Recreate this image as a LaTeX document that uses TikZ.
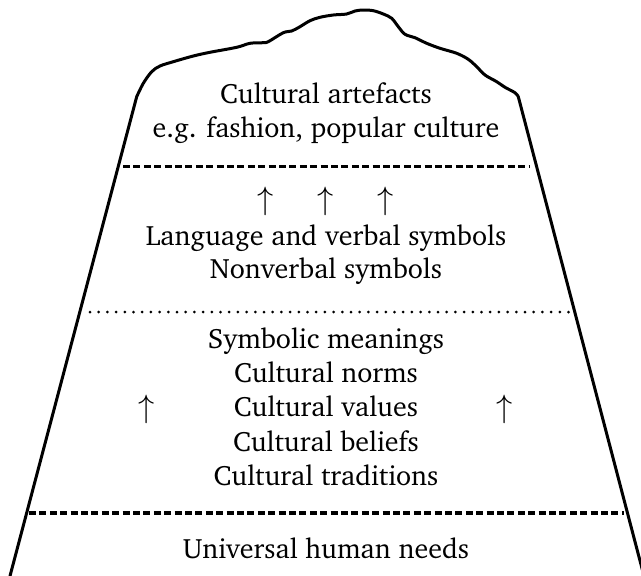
\documentclass[tikz,border=0pt]{standalone}
\usepackage[T1]{fontenc}
\usepackage{charter}
\begin{document}
\begin{tikzpicture}[x=1pt,y=-1pt,
  outline/.style={line width=3pt,line join=round,line cap=round},
  boldsep/.style={line width=3.4pt,dash pattern=on 7pt off 3.4pt},
  dotsep/.style={line width=3pt,line cap=round,dash pattern=on 0pt off 8.7pt},
  lbl/.style={anchor=base,inner sep=0pt,font=\fontsize{28}{34}\selectfont},
  upar/.style={inner sep=0pt,scale=1.3,font=\fontsize{24.88}{30}\selectfont}]
\useasboundingbox (0,0) rectangle (641,576);

% iceberg outline: straight flanks joined by a ragged crest
\draw[outline] (10,576) -- (136.7,96.7)
  plot[smooth,tension=0.55] coordinates {
   (136.7,96.7) (143.3,83.3) (151.7,71.7) (160,66) (173.3,61.7) (193.3,56)
   (210,52.3) (236.7,47.3) (250,43.3) (263.3,42.7) (268.3,41.7) (283.3,32.7)
   (291.7,31) (300,26.7) (310,20.7) (320,17.3) (333.3,15) (346.7,14)
   (355,11) (363.3,10) (373.3,10.7) (383.3,14) (391.7,18.3) (398.3,26.7)
   (405,34.3) (415,37.7) (426.7,43.3) (440,48.3) (456.7,53.3) (468.3,59.3)
   (476.7,66.7) (485,75) (496.7,81.7) (505,87.3) (515,92.7) (518.3,96.7)}
  -- (644,576);

% layer separators
\coordinate (s1l) at (123,166.5); \coordinate (s1r) at (529,166.5);
\coordinate (s2l) at (90,312);    \coordinate (s2r) at (571,312);
\coordinate (s3l) at (29,513);    \coordinate (s3r) at (624,513);
\draw[boldsep] (s1l) -- (s1r);
\draw[dotsep] (s2l) -- (s2r);
\draw[boldsep] (s3l) -- (s3r);

% top layer
\node[lbl] (art) at (326,103.5) {Cultural artefacts};
\node[lbl] (eg)  at (326,137) {e.g. fashion, popular culture};

% second layer
\node[upar] (a1) at (265.7,201.5) {$\uparrow$};
\node[upar] (a2) at (326,201.5) {$\uparrow$};
\node[upar] (a3) at (386,201.5) {$\uparrow$};
\node[lbl] (lang) at (326,245) {Language and verbal symbols};
\node[lbl] (nonv) at (326,278.3) {Nonverbal symbols};

% third layer
\node[lbl] (sym)  at (326,348.3) {Symbolic meanings};
\node[lbl] (norm) at (326,382.7) {Cultural norms};
\node[lbl] (val)  at (326,416.7) {Cultural values};
\node[lbl] (bel)  at (326,451.7) {Cultural beliefs};
\node[lbl] (trad) at (326,485.5) {Cultural traditions};
\node[upar] (a4) at (146.7,409) {$\uparrow$};
\node[upar] (a5) at (505,409) {$\uparrow$};

% base layer
\node[lbl] (univ) at (326,558.5) {Universal human needs};
\end{tikzpicture}
\end{document}
